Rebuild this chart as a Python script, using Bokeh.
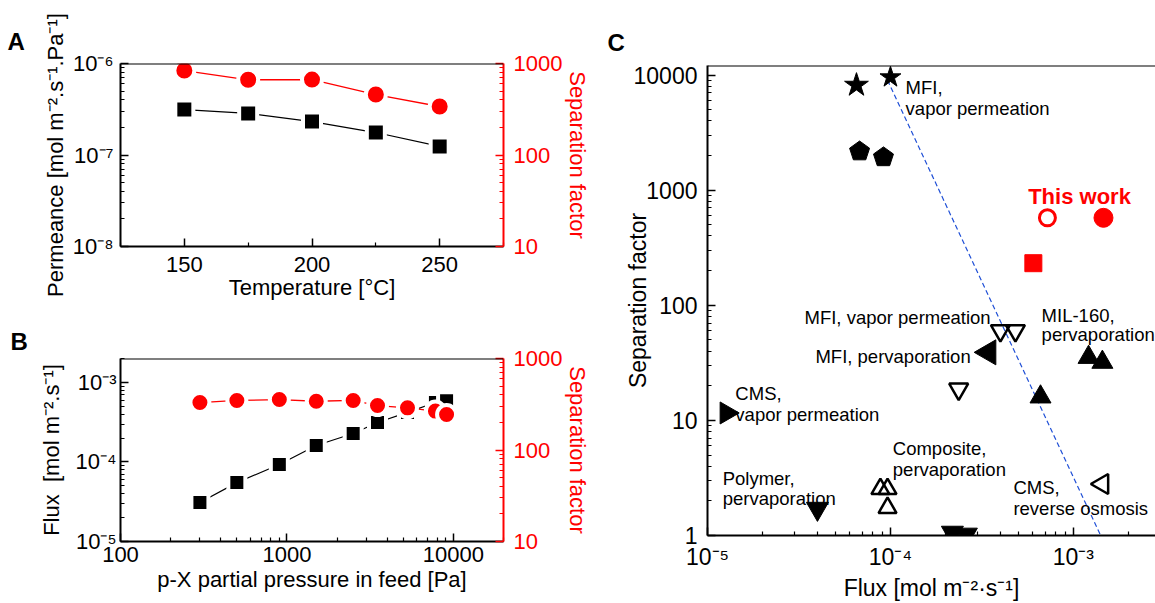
import math
from bokeh.plotting import figure
from bokeh.layouts import row, column
from bokeh.models import (Range1d, LogScale, LogAxis, FixedTicker,
                          CustomJSTickFormatter, Span)
from bokeh.core.properties import value
from bokeh.embed import file_html
from bokeh.resources import INLINE

FONT = "Liberation Sans"
RED = "#ff0000"

# ---------------- Panel A data ----------------
a_temperature = [150, 175, 200, 225, 250]
a_permeance = [3.14e-7, 2.85e-7, 2.32e-7, 1.76e-7, 1.24e-7]
a_sep_factor = [838, 664, 668, 458, 339]
a_x_ticks = [150, 200, 250]
a_x_tick_labels = ["150", "200", "250"]
a_y_ticks = [1e-8, 1e-7, 1e-6]
a_y_tick_labels = ["10⁻⁸", "10⁻⁷", "10⁻⁶"]
sep_ticks = [10, 100, 1000]
sep_tick_labels = ["10", "100", "1000"]

# ---------------- Panel B data ----------------
b_pressure = [300, 500, 900, 1500, 2500, 3500, 5300, 7800, 9100]
b_flux = [3.10e-5, 5.5e-5, 9.3e-5, 1.61e-4, 2.28e-4, 3.14e-4, 4.2e-4, 5.6e-4, 5.9e-4]
b_sep_factor = [330, 348, 356, 341, 348, 306, 289, 266, 244]
b_x_ticks = [100, 1000, 10000]
b_x_tick_labels = ["100", "1000", "10000"]
b_y_ticks = [1e-5, 1e-4, 1e-3]
b_y_tick_labels = ["10⁻⁵", "10⁻⁴", "10⁻³"]

# ---------------- Panel C data ----------------
c_x_ticks = [1e-5, 1e-4, 1e-3]
c_x_tick_labels = ["10⁻⁵", "10⁻⁴", "10⁻³"]
c_y_ticks = [1, 10, 100, 1000, 10000]
c_y_tick_labels = ["1", "10", "100", "1000", "10000"]

c_star_flux = [6.52e-5, 1.0e-4]
c_star_sep = [8170, 9570]
c_pentagon_flux = [6.78e-5, 9.16e-5]
c_pentagon_sep = [2170, 1930]
c_this_open_flux = [7.21e-4]
c_this_open_sep = [575]
c_this_filled_flux = [1.46e-3]
c_this_filled_sep = [575]
c_this_square_flux = [6.04e-4]
c_this_square_sep = [232]
c_mfi_vp_flux = [3.99e-4, 4.82e-4, 2.36e-4]
c_mfi_vp_sep = [60.2, 60.2, 18.7]
c_mfi_pv_flux = [3.44e-4]
c_mfi_pv_sep = [39.0]
c_mil_flux = [1.21e-3, 1.44e-3, 6.61e-4]
c_mil_sep = [35.3, 32.0, 16.0]
c_cms_vp_flux = [1.27e-5]
c_cms_vp_sep = [11.6]
c_polymer_flux = [3.99e-5, 2.18e-4, 2.60e-4]
c_polymer_sep = [1.71, 1.06, 1.02]
c_composite_flux = [8.81e-5, 9.64e-5, 9.64e-5]
c_composite_sep = [2.54, 2.54, 1.74]
c_cms_ro_flux = [1.44e-3]
c_cms_ro_sep = [2.8]
c_bound_flux = [9.64e-5, 1.41e-3]
c_bound_sep = [9020, 1]

c_label_text = ["MFI,", "vapor permeation", "MFI, vapor permeation", "MFI, pervaporation",
                "MIL-160,", "pervaporation", "CMS,", "vapor permeation",
                "Polymer,", "pervaporation", "Composite,", "pervaporation",
                "CMS,", "reverse osmosis"]
c_label_flux = [1.21e-4, 1.21e-4, 3.39e-5, 3.89e-5,
                6.70e-4, 6.70e-4, 1.42e-5, 1.42e-5,
                1.21e-5, 1.21e-5, 1.03e-4, 1.03e-4,
                4.70e-4, 4.70e-4]
c_label_sep = [7850, 5080, 78, 36.0,
               81, 55.6, 17.0, 11.2,
               3.15, 2.08, 5.71, 3.77,
               2.59, 1.71]
c_this_work_flux = [1.08e-3]
c_this_work_sep = [873]


# ---------------- helpers ----------------
def log_minor(k0, k1):
    return [m * 10.0 ** k for k in range(k0, k1 + 1) for m in range(2, 10)]


def fmt(tv, tl):
    return CustomJSTickFormatter(args=dict(tvals=tv, tlabels=tl), code="""
        for (let i = 0; i < tvals.length; i++) {
            if (Math.abs(tvals[i] - tick) <= 1e-9 * Math.abs(tvals[i])) { return tlabels[i]; }
        }
        return "";
    """)


def style_axis(ax, tv, tl, minor, color="black", size="22px", standoff=6,
               label_standoff=0, lw=2):
    ax.ticker = FixedTicker(ticks=tv, minor_ticks=minor)
    ax.formatter = fmt(tv, tl)
    ax.axis_line_color = color
    ax.axis_line_width = lw
    ax.major_tick_line_color = color
    ax.major_tick_line_width = 1.5
    ax.minor_tick_line_color = color
    ax.minor_tick_line_width = 1.2
    ax.major_tick_in = 8
    ax.major_tick_out = 0
    ax.minor_tick_in = 4
    ax.minor_tick_out = 0
    ax.major_label_text_color = color
    ax.major_label_text_font = FONT
    ax.major_label_text_font_size = size
    ax.major_label_standoff = standoff
    ax.axis_label_text_color = color
    ax.axis_label_text_font = FONT
    ax.axis_label_text_font_size = size
    ax.axis_label_text_font_style = "normal"
    ax.axis_label_standoff = label_standoff


def base_fig(letter, letter_offset, letter_standoff, **kw):
    p = figure(output_backend="svg", toolbar_location=None, **kw)
    p.xgrid.visible = False
    p.ygrid.visible = False
    p.outline_line_color = None
    p.background_fill_color = "white"
    p.border_fill_color = "white"
    p.title.text = letter
    p.title.align = "left"
    p.title.offset = letter_offset
    p.title.text_font = FONT
    p.title.text_font_style = "bold"
    p.title.text_font_size = "24px"
    p.title.text_color = "black"
    p.title.standoff = letter_standoff
    return p


# ---------------- Panel A ----------------
pA = base_fig("A", -113, 17, width=600, height=308, x_range=Range1d(125, 275),
              y_range=Range1d(1e-8, 1e-6), y_axis_type="log",
              min_border_left=120, min_border_right=95, min_border_top=63, min_border_bottom=62)
pA.extra_y_ranges = {"sep": Range1d(10, 1000)}
pA.extra_y_scales = {"sep": LogScale()}
style_axis(pA.xaxis[0], a_x_ticks, a_x_tick_labels, [125, 175, 225, 275], standoff=10, label_standoff=0)
pA.xaxis[0].axis_label = "Temperature [°C]"
style_axis(pA.yaxis[0], a_y_ticks, a_y_tick_labels, log_minor(-8, -7), standoff=7, label_standoff=2)
pA.yaxis[0].axis_label = "Permeance [mol m⁻².s⁻¹.Pa⁻¹]"
raA = LogAxis(y_range_name="sep", axis_label="Separation factor")
style_axis(raA, sep_ticks, sep_tick_labels, log_minor(1, 2), color=RED, standoff=10, label_standoff=0)
pA.add_layout(raA, "right")
pA.add_layout(Span(location=1e-6, dimension="width", line_color="black", line_width=2))

pA.line(a_temperature, a_permeance, line_color="black", line_width=1.2)
pA.scatter(a_temperature, a_permeance, marker="square", size=18, fill_color="black",
           line_color="white", line_width=4)
pA.line(a_temperature, a_sep_factor, y_range_name="sep", line_color=RED, line_width=1.3)
pA.scatter(a_temperature, a_sep_factor, y_range_name="sep", marker="circle", size=20,
           fill_color=RED, line_color="white", line_width=4)

# ---------------- Panel B ----------------
pB = base_fig("B", -110, 7, width=600, height=295, x_range=Range1d(100, 20000),
              y_range=Range1d(1e-5, 2e-3), x_axis_type="log", y_axis_type="log",
              min_border_left=117, min_border_right=97, min_border_top=50, min_border_bottom=62)
pB.extra_y_ranges = {"sep": Range1d(10, 1000)}
pB.extra_y_scales = {"sep": LogScale()}
style_axis(pB.xaxis[0], b_x_ticks, b_x_tick_labels, log_minor(2, 4), standoff=5, label_standoff=2)
pB.xaxis[0].axis_label = "p-X partial pressure in feed [Pa]"
style_axis(pB.yaxis[0], b_y_ticks, b_y_tick_labels, log_minor(-5, -3), standoff=4, label_standoff=9)
pB.yaxis[0].axis_label = "Flux\u00a0 [mol m⁻².s⁻¹]"
raB = LogAxis(y_range_name="sep", axis_label="Separation factor")
style_axis(raB, sep_ticks, sep_tick_labels, log_minor(1, 2), color=RED, standoff=10, label_standoff=0)
pB.add_layout(raB, "right")
pB.add_layout(Span(location=2e-3, dimension="width", line_color="black", line_width=2))

pB.line(b_pressure, b_flux, line_color="black", line_width=1.2)
pB.scatter(b_pressure, b_flux, marker="square", size=17, fill_color="black",
           line_color="white", line_width=4)
pB.line(b_pressure, b_sep_factor, y_range_name="sep", line_color=RED, line_width=1.3)
pB.scatter(b_pressure, b_sep_factor, y_range_name="sep", marker="circle", size=19,
           fill_color=RED, line_color="white", line_width=4)

# ---------------- Panel C ----------------
C_XMIN, C_XMAX = 1e-5, 2.81e-3
C_YMIN, C_YMAX = 1, 12100
C_FW, C_FH = 448, 475
pC = base_fig("C", -100, 19, width=555, height=603, x_range=Range1d(C_XMIN, C_XMAX),
              y_range=Range1d(C_YMIN, C_YMAX), x_axis_type="log", y_axis_type="log",
              min_border_left=107, min_border_right=0, min_border_top=65, min_border_bottom=63)
style_axis(pC.xaxis[0], c_x_ticks, c_x_tick_labels, log_minor(-5, -3), size="23px", standoff=8,
           label_standoff=2)
pC.xaxis[0].axis_label = "Flux [mol m⁻²·s⁻¹]"
style_axis(pC.yaxis[0], c_y_ticks, c_y_tick_labels, log_minor(0, 4), size="23px", standoff=10,
           label_standoff=-20)
pC.yaxis[0].axis_label = "Separation factor"
pC.add_layout(Span(location=C_YMAX, dimension="width", line_color="black", line_width=2))

# trade-off line
pC.line(c_bound_flux, c_bound_sep, line_color="#1f4fd6", line_width=1.2, line_dash="5 3")

# stars
pC.scatter(c_star_flux, c_star_sep, marker="star", size=[25, 22], fill_color="black", line_color="black")

# pentagons (Bokeh has no pentagon marker: outline built around each data point in log space)
xdec = C_FW / math.log10(C_XMAX / C_XMIN)
ydec = C_FH / math.log10(C_YMAX / C_YMIN)
PR = 10.5
pent_xs, pent_ys = [], []
for fx, sy in zip(c_pentagon_flux, c_pentagon_sep):
    pent_xs.append([fx * 10 ** (PR * math.sin(2 * math.pi * k / 5) / xdec) for k in range(5)])
    pent_ys.append([sy * 10 ** (PR * math.cos(2 * math.pi * k / 5) / ydec) for k in range(5)])
pC.patches(pent_xs, pent_ys, fill_color="black", line_color="black")

# this work
pC.scatter(c_this_open_flux, c_this_open_sep, marker="circle", size=16, fill_color=None,
           line_color=RED, line_width=3)
pC.scatter(c_this_filled_flux, c_this_filled_sep, marker="circle", size=19, fill_color=RED,
           line_color=RED)
pC.scatter(c_this_square_flux, c_this_square_sep, marker="square", size=17, fill_color=RED,
           line_color=RED)

# literature
pC.scatter(c_mfi_vp_flux, c_mfi_vp_sep, marker="inverted_triangle", size=19, fill_color=None,
           line_color="black", line_width=2.5)
pC.scatter(c_mfi_pv_flux, c_mfi_pv_sep, marker="triangle", angle=math.pi / 2, size=25,
           fill_color="black", line_color="black")
pC.scatter(c_mil_flux, c_mil_sep, marker="triangle", size=21, fill_color="black", line_color="black")
pC.scatter(c_cms_vp_flux, c_cms_vp_sep, marker="triangle", angle=-math.pi / 2, size=22,
           fill_color="black", line_color="black")
pC.scatter(c_polymer_flux, c_polymer_sep, marker="inverted_triangle", size=22, fill_color="black",
           line_color="black")
pC.scatter(c_composite_flux, c_composite_sep, marker="triangle", size=18, fill_color=None,
           line_color="black", line_width=2.5)
pC.scatter(c_cms_ro_flux, c_cms_ro_sep, marker="triangle", angle=math.pi / 2, size=20,
           fill_color=None, line_color="black", line_width=2.5)

# annotations
pC.text(c_label_flux, c_label_sep, text=c_label_text, text_font=value(FONT),
        text_font_size=value("18.5px"), text_align="left", text_baseline="alphabetic",
        text_color="black")
pC.text(c_this_work_flux, c_this_work_sep, text=["This work"], text_font=value(FONT),
        text_font_size=value("22px"), text_font_style="bold", text_align="center",
        text_baseline="alphabetic", text_color=RED)

layout = row(column(pA, pB), pC)
open("out.html", "w").write(file_html(layout, INLINE))
